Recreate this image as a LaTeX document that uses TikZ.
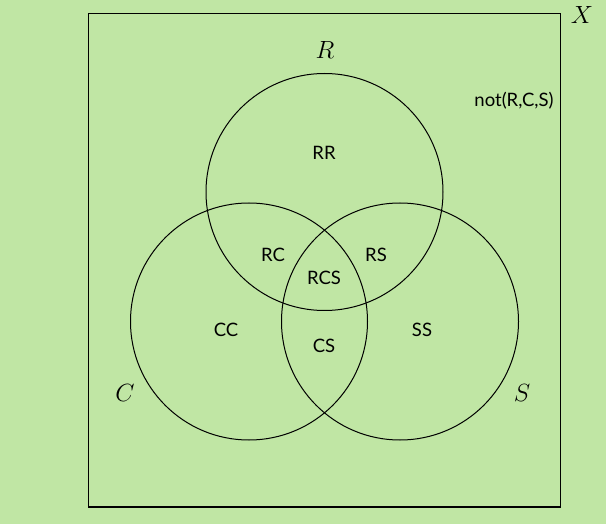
\documentclass[tikz,border=0pt]{standalone}
\usepackage{fontspec}
\newfontfamily\lblfont{Lato}
\definecolor{bg}{RGB}{192,230,164}
\begin{document}
\begin{tikzpicture}[x=1pt,y=-1pt,
  lbl/.style={font=\lblfont\fontsize{18.5}{20}\selectfont,inner sep=0pt},
  setname/.style={font=\fontsize{27}{30}\selectfont,inner sep=0pt},
  circ/.style={draw=black,line width=1pt}]
\fill[bg] (0,0) rectangle (606,524);
\useasboundingbox (0,0) rectangle (606,524);
\draw[line width=1pt] (88,14) rectangle (560,507);
\draw[line width=2pt] (88,507) -- (560,507);
\coordinate (cR) at (324.5,192);
\coordinate (cC) at (249,321.5);
\coordinate (cS) at (400,321.5);
\draw[circ] (cR) circle (118.5);
\draw[circ] (cC) circle (118.5);
\draw[circ] (cS) circle (118.5);
\node[setname] (X) at (582,15) {$X$};
\node[setname] (R) at (325,50) {$R$};
\node[setname] (C) at (125,393) {$C$};
\node[setname] (S) at (522,393) {$S$};
\node[lbl] (n) at (514,101) {not(R,C,S)};
\node[lbl] (rr) at (324,153) {RR};
\node[lbl] (rc) at (273,255) {RC};
\node[lbl] (rs) at (376,255) {RS};
\node[lbl] (rcs) at (324,278) {RCS};
\node[lbl] (cc) at (226,330) {CC};
\node[lbl] (cs) at (324,346) {CS};
\node[lbl] (ss) at (422,330) {SS};
\end{tikzpicture}
\end{document}
